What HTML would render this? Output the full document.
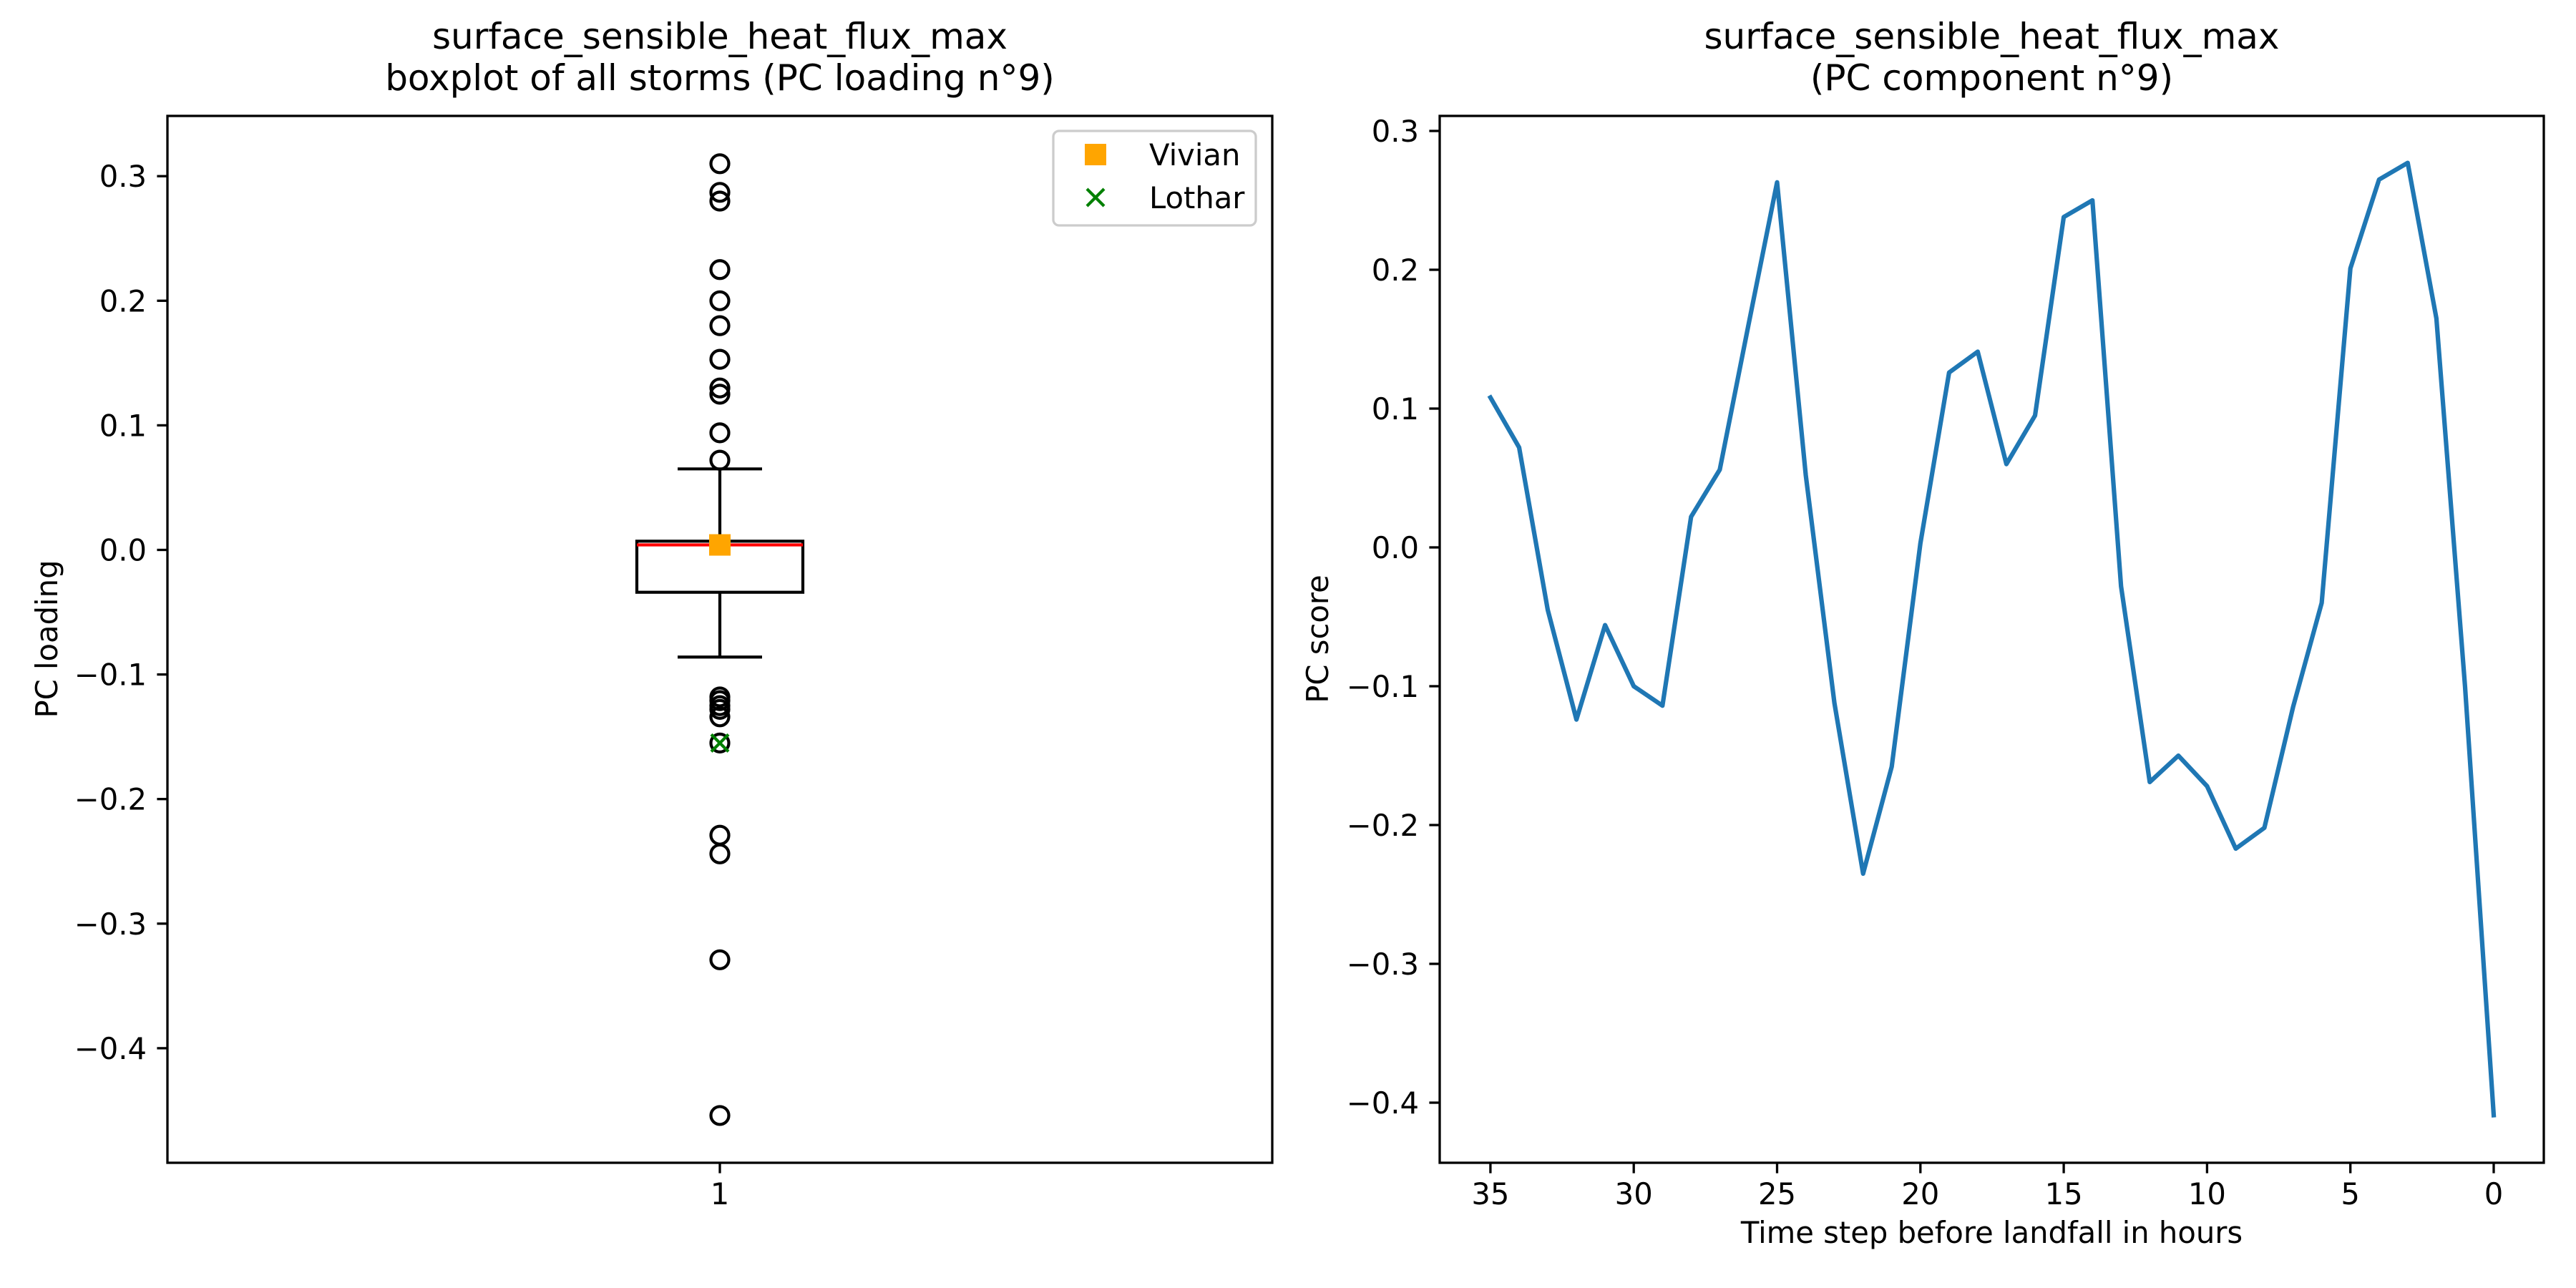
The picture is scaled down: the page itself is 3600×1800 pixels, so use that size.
<!DOCTYPE html>
<html><head><meta charset="utf-8"><style>
html,body{margin:0;padding:0;background:#fff}
svg{display:block}
text{font-family:"DejaVu Sans","Liberation Sans",sans-serif;fill:#000}
</style></head><body>
<svg id="fig" width="3600" height="1800" viewBox="0 0 3600 1800" xmlns="http://www.w3.org/2000/svg">
<rect width="3600" height="1800" fill="#fff"/>
<g id="left"></g>
<g id="right"></g>
</svg>
<script>
// ---- Left chart data ----
const boxStats = [-0.086, -0.034, 0.004, 0.007, 0.065]; // whisLo, q1, median, q3, whisHi
const outliers = [0.31, 0.287, 0.28, 0.225, 0.2, 0.18, 0.153, 0.13, 0.125, 0.094, 0.072,
  -0.118, -0.121, -0.125, -0.128, -0.134, -0.155, -0.229, -0.244, -0.329, -0.454];
const vivianValue = [0.004];
const lotharValue = [-0.155];
const leftTicks = [0.3, 0.2, 0.1, 0.0, -0.1, -0.2, -0.3, -0.4];
const leftTickLabels = ["0.3", "0.2", "0.1", "0.0", "\u22120.1", "\u22120.2", "\u22120.3", "\u22120.4"];
// ---- Right chart data ----
const hours = [35,34,33,32,31,30,29,28,27,26,25,24,23,22,21,20,19,18,17,16,15,14,13,12,11,10,9,8,7,6,5,4,3,2,1,0];
const scores = [0.108,0.072,-0.045,-0.124,-0.056,-0.100,-0.114,0.022,0.056,0.160,0.263,0.052,-0.112,-0.235,-0.158,0.003,0.126,0.141,0.060,0.095,0.238,0.250,-0.028,-0.169,-0.150,-0.172,-0.217,-0.202,-0.115,-0.040,0.201,0.265,0.277,0.165,-0.100,-0.409];
const rightYTicks = [0.3, 0.2, 0.1, 0.0, -0.1, -0.2, -0.3, -0.4];
const rightYTickLabels = ["0.3", "0.2", "0.1", "0.0", "\u22120.1", "\u22120.2", "\u22120.3", "\u22120.4"];
const rightXTicks = [35, 30, 25, 20, 15, 10, 5, 0];

const NS = "http://www.w3.org/2000/svg";
function mk(parent, tag, attrs, txt) {
  const e = document.createElementNS(NS, tag);
  for (const k in attrs) e.setAttribute(k, attrs[k]);
  if (txt !== undefined) e.textContent = txt;
  parent.appendChild(e);
  return e;
}
const L = document.getElementById('left');
const R = document.getElementById('right');

// Left axes geometry
const lx0 = 234, lx1 = 1778, ly0 = 162, ly1 = 1625;
const ly = v => 768.5 - v * 1741; // 0.3 -> 246, -0.4 -> 1465
const lcx = 1006;

// Title left
let t = mk(L, 'text', {x: 1006, y: 68, 'font-size': 50, 'text-anchor': 'middle'}, 'surface_sensible_heat_flux_max');


t = mk(L, 'text', {x: 1006, y: 126, 'font-size': 50, 'text-anchor': 'middle'}, 'boxplot of all storms (PC loading n\u00b09)');



// Y ticks left
leftTicks.forEach((v, i) => {
  const y = ly(v);
  const tk = mk(L, 'line', {x1: lx0 - 14.6, x2: lx0, y1: y, y2: y, stroke: '#000', 'stroke-width': 3.3});
  
  
  const lb = mk(L, 'text', {x: lx0 - 29, y: y + 15, 'font-size': 41.7, 'text-anchor': 'end'}, leftTickLabels[i]);
  
  
});
// x tick "1"
let xt = mk(L, 'line', {x1: lcx, x2: lcx, y1: ly1, y2: ly1 + 14.6, stroke: '#000', 'stroke-width': 3.3});


xt = mk(L, 'text', {x: lcx, y: 1683, 'font-size': 41.7, 'text-anchor': 'middle'}, '1');


// y label
let yl = mk(L, 'text', {x: 0, y: 0, 'font-size': 41.7, 'text-anchor': 'middle', transform: 'translate(80,893) rotate(-90)'}, 'PC loading');



// Box
const bw = 116, cw = 59;
let b = mk(L, 'line', {x1: lcx, x2: lcx, y1: ly(boxStats[3]), y2: ly(boxStats[4]), stroke: '#000', 'stroke-width': 4.2});


b = mk(L, 'line', {x1: lcx, x2: lcx, y1: ly(boxStats[1]), y2: ly(boxStats[0]), stroke: '#000', 'stroke-width': 4.2});


b = mk(L, 'line', {x1: lcx - cw, x2: lcx + cw, y1: ly(boxStats[4]), y2: ly(boxStats[4]), stroke: '#000', 'stroke-width': 4.2});


b = mk(L, 'line', {x1: lcx - cw, x2: lcx + cw, y1: ly(boxStats[0]), y2: ly(boxStats[0]), stroke: '#000', 'stroke-width': 4.2});


b = mk(L, 'rect', {x: lcx - bw, y: ly(boxStats[3]), width: 2 * bw, height: ly(boxStats[1]) - ly(boxStats[3]), fill: 'none', stroke: '#000', 'stroke-width': 4.2});


b = mk(L, 'line', {x1: lcx - bw, x2: lcx + bw, y1: ly(boxStats[2]), y2: ly(boxStats[2]), stroke: '#f00', 'stroke-width': 4.2});


// Outliers
outliers.forEach(v => {
  const c = mk(L, 'circle', {cx: lcx, cy: ly(v), r: 12.5, fill: 'none', stroke: '#000', 'stroke-width': 4.2});
  
  
});
// Vivian
vivianValue.forEach(v => {
  const s = mk(L, 'rect', {x: lcx - 15, y: ly(v) - 15, width: 30, height: 30, fill: '#ffa500'});
  
  
});
// Lothar
lotharValue.forEach(v => {
  const y = ly(v);
  const g = mk(L, 'path', {d: `M${lcx-12},${y-12}L${lcx+12},${y+12}M${lcx-12},${y+12}L${lcx+12},${y-12}`, stroke: '#008000', 'stroke-width': 4.2, fill: 'none'});
  
  
});
// Left frame
let fr = mk(L, 'rect', {x: lx0, y: ly0, width: lx1 - lx0, height: ly1 - ly0, fill: 'none', stroke: '#000', 'stroke-width': 3.3});


// Legend
const lg = mk(L, 'g', {});


let lr = mk(lg, 'rect', {x: 1472, y: 183, width: 283, height: 132, rx: 8, fill: '#fff', 'fill-opacity': 0.8, stroke: '#ccc', 'stroke-width': 3.3});


let le = mk(lg, 'rect', {x: 1516, y: 201, width: 30, height: 30, fill: '#ffa500'});


le = mk(lg, 'text', {x: 1606, y: 231, 'font-size': 41.7}, 'Vivian');


le = mk(lg, 'path', {d: 'M1519,264L1543,288M1519,288L1543,264', stroke: '#008000', 'stroke-width': 4.2});


le = mk(lg, 'text', {x: 1606, y: 291, 'font-size': 41.7}, 'Lothar');



// ---- Right chart ----
const rx0 = 2012, rx1 = 3555, ry0 = 162, ry1 = 1625;
const rx = h => 3485 - h * 40.06;
const ry = v => 765 - v * 1940;  // 0.3 -> 183, -0.4 -> 1541
const rcx = (rx0 + rx1) / 2;
t = mk(R, 'text', {x: rcx, y: 68, 'font-size': 50, 'text-anchor': 'middle'}, 'surface_sensible_heat_flux_max');


t = mk(R, 'text', {x: rcx, y: 126, 'font-size': 50, 'text-anchor': 'middle'}, '(PC component n\u00b09)');


rightYTicks.forEach((v, i) => {
  const y = ry(v);
  const tk = mk(R, 'line', {x1: rx0 - 14.6, x2: rx0, y1: y, y2: y, stroke: '#000', 'stroke-width': 3.3});
  
  
  const lb = mk(R, 'text', {x: rx0 - 29, y: y + 15, 'font-size': 41.7, 'text-anchor': 'end'}, rightYTickLabels[i]);
  
  
});
rightXTicks.forEach(h => {
  const x = rx(h);
  const tk = mk(R, 'line', {x1: x, x2: x, y1: ry1, y2: ry1 + 14.6, stroke: '#000', 'stroke-width': 3.3});
  
  
  const lb = mk(R, 'text', {x: x, y: 1683, 'font-size': 41.7, 'text-anchor': 'middle'}, String(h));
  
  
});
yl = mk(R, 'text', {x: 0, y: 0, 'font-size': 41.7, 'text-anchor': 'middle', transform: 'translate(1856,893) rotate(-90)'}, 'PC score');


let xl = mk(R, 'text', {x: rcx, y: 1737, 'font-size': 41.7, 'text-anchor': 'middle'}, 'Time step before landfall in hours');


const pts = hours.map((h, i) => rx(h).toFixed(1) + ',' + ry(scores[i]).toFixed(1)).join(' ');
const pl = mk(R, 'polyline', {points: pts, fill: 'none', stroke: '#1f77b4', 'stroke-width': 6.25, 'stroke-linejoin': 'round', 'stroke-linecap': 'square'});


fr = mk(R, 'rect', {x: rx0, y: ry0, width: rx1 - rx0, height: ry1 - ry0, fill: 'none', stroke: '#000', 'stroke-width': 3.3});


</script>
</body></html>
